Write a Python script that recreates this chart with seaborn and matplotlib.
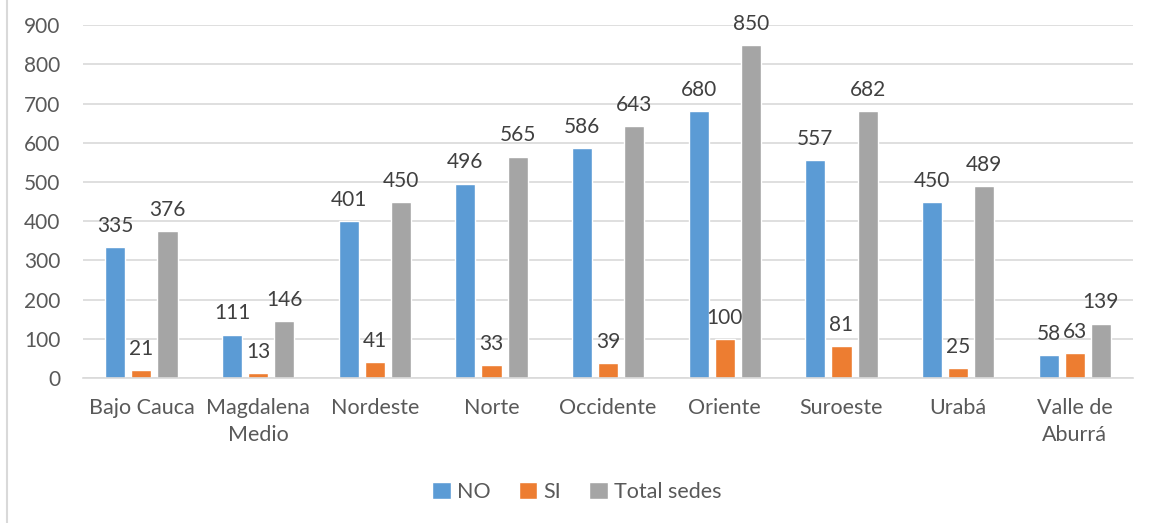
import matplotlib
matplotlib.use("Agg")
import matplotlib.pyplot as plt
import seaborn as sns
import pandas as pd
from matplotlib.lines import Line2D

categories = ["Bajo Cauca", "Magdalena\nMedio", "Nordeste", "Norte", "Occidente",
              "Oriente", "Suroeste", "Urabá", "Valle de\nAburrá"]
no_vals = [335, 111, 401, 496, 586, 680, 557, 450, 58]
si_vals = [21, 13, 41, 33, 39, 100, 81, 25, 63]
total_vals = [376, 146, 450, 565, 643, 850, 682, 489, 139]
series = ["NO", "SI", "Total sedes"]
colors = ["#5B9BD5", "#ED7D31", "#A5A5A5"]
yticks = list(range(0, 1000, 100))

rows = []
for s, vals in zip(series, [no_vals, si_vals, total_vals]):
    for c, v in zip(categories, vals):
        rows.append({"cat": c, "series": s, "value": v})
df = pd.DataFrame(rows)

sns.set_theme(style="white")
plt.rcParams["font.family"] = ["Lato", "DejaVu Sans"]
text_color = "#595959"

fig = plt.figure(figsize=(11.54, 5.23), dpi=100)
ax = fig.add_axes([0.072, 0.277, 0.910, 0.675])

sns.barplot(data=df, x="cat", y="value", hue="series", palette=colors,
            width=0.67, gap=0.23, ax=ax, legend=True, saturation=1)

for cont in ax.containers:
    ax.bar_label(cont, padding=8, fontsize=15, color="#404040")

ax.set_ylim(0, 900)
ax.set_yticks(yticks)
ax.set_yticklabels([str(t) for t in yticks], fontsize=15, color=text_color)
ax.set_xticks(range(len(categories)))
ax.set_xticklabels(categories, fontsize=15.5, color=text_color, linespacing=1.45)
ax.tick_params(axis="x", length=0, pad=14)
ax.tick_params(axis="y", length=0, pad=16.5)
ax.set_xlabel("")
ax.set_ylabel("")
ax.yaxis.grid(True, color="#D9D9D9", linewidth=1.2)
ax.set_axisbelow(True)
for sp in ["top", "right", "left"]:
    ax.spines[sp].set_visible(False)
ax.spines["bottom"].set_color("#D9D9D9")
ax.spines["bottom"].set_linewidth(1.2)
ax.set_xlim(-0.5, len(categories) - 0.5)

leg = ax.legend(loc="center", bbox_to_anchor=(0.5, 0.06), bbox_transform=fig.transFigure,
                ncol=3, frameon=False, fontsize=15.5, handlelength=0.85, handleheight=0.85,
                handletextpad=0.3, columnspacing=1.3)
for t in leg.get_texts():
    t.set_color(text_color)

fig.add_artist(Line2D([7 / 1154, 7 / 1154], [0, 1], transform=fig.transFigure,
                      color="#D9D9D9", linewidth=1.5))

fig.savefig("out.png", dpi=100, facecolor="white")
